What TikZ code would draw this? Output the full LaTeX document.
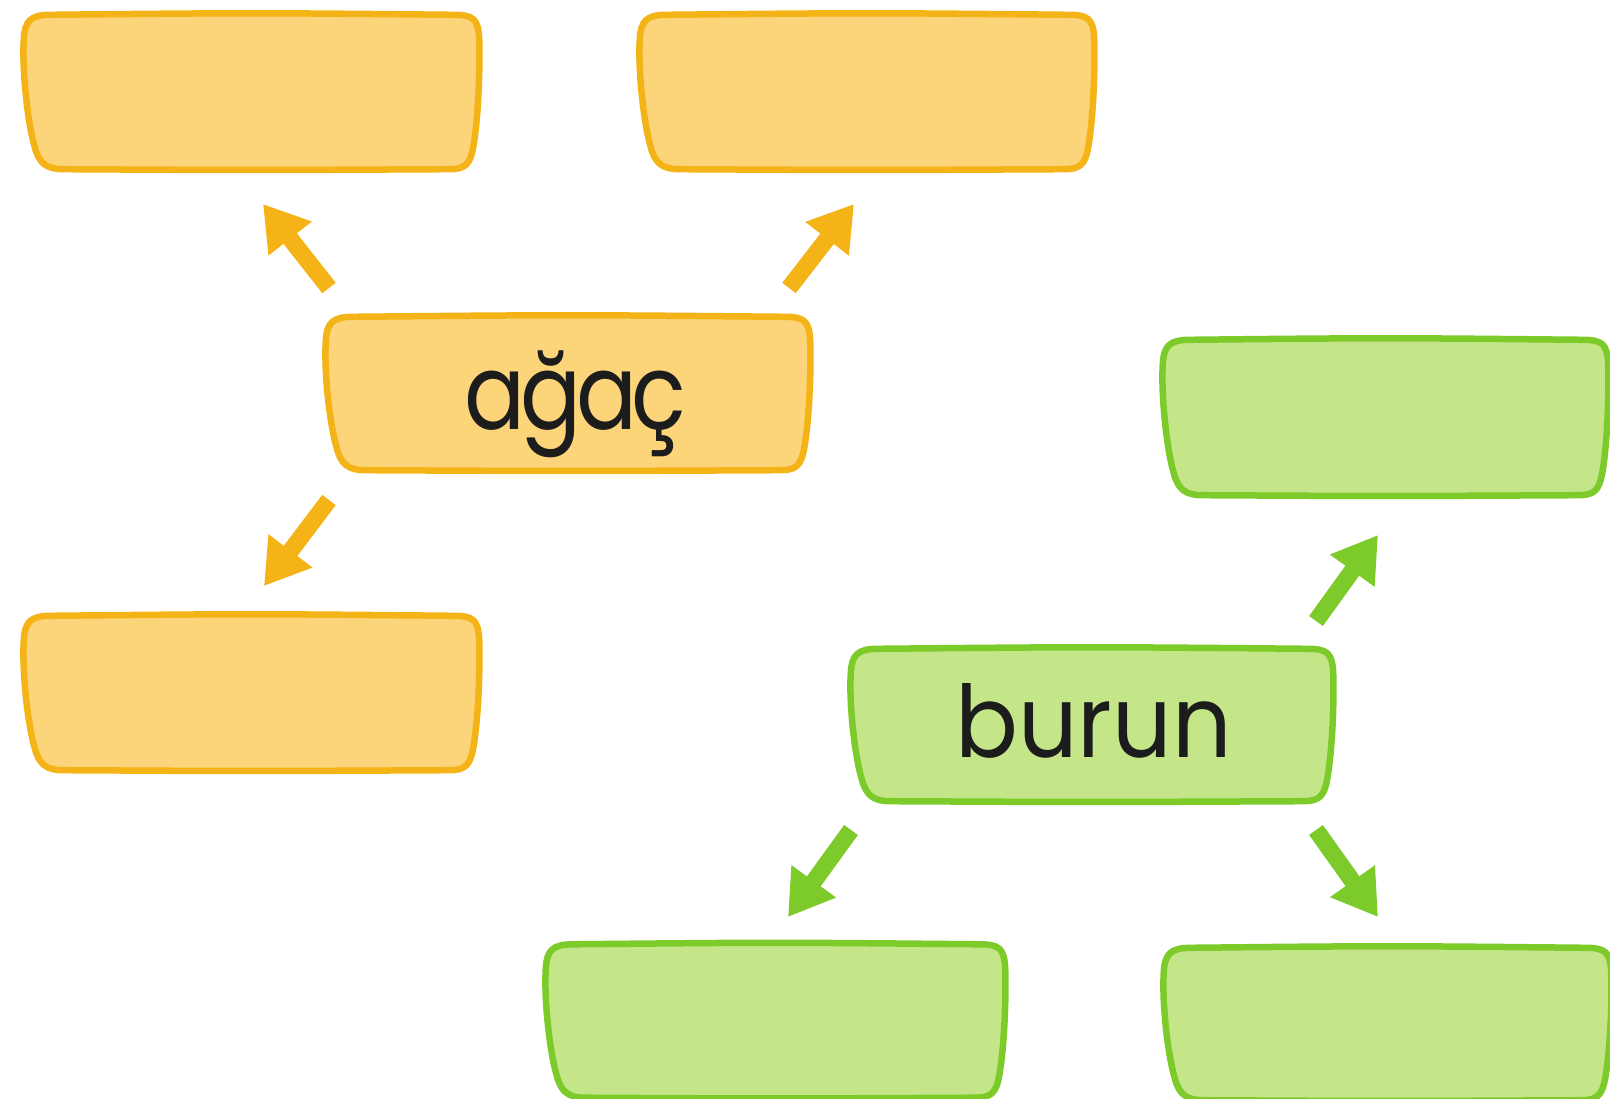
\documentclass[tikz,border=0pt]{standalone}
\usepackage{fontspec}
\setmainfont{Poppins}
\usetikzlibrary{calc,arrows.meta,backgrounds}
\definecolor{ofill}{HTML}{FCD57A}
\definecolor{oline}{HTML}{F4B316}
\definecolor{gfill}{HTML}{C4E688}
\definecolor{gline}{HTML}{7DCB2A}
\definecolor{ink}{HTML}{1C1C1C}
\tikzset{
  slot/.style={draw=none,fill=none,inner sep=0pt,text=ink,font=\fontsize{100}{104}\selectfont,text depth=0pt},
  obox/.style={fill=ofill,draw=oline,line width=6.5pt,line join=round},
  gbox/.style={fill=gfill,draw=gline,line width=6.5pt,line join=round},
  parrow/.style={line width=17pt,-{Triangle[length=44pt,width=52pt]}},
  oarrow/.style={parrow,draw=oline},
  garrow/.style={parrow,draw=gline}
}
\newcommand\blobshape[2]{%
  \path[#2] ($(#1.north west)+(1,-24)$)
   .. controls ($(#1.north west)+(2,-6)$) and ($(#1.north west)+(8,0)$) .. ($(#1.north west)+(28,0)$)
   .. controls ($(#1.north)+(0,2)$) .. ($(#1.north east)+(-26,0)$)
   .. controls ($(#1.north east)+(-6,0)$) and ($(#1.north east)+(-1,-4)$) .. ($(#1.north east)+(0,-24)$)
   .. controls ($(#1.north east)+(1,-55)$) and ($(#1.south east)+(-1,50)$) .. ($(#1.south east)+(-6,22)$)
   .. controls ($(#1.south east)+(-9,5)$) and ($(#1.south east)+(-14,0)$) .. ($(#1.south east)+(-30,0)$)
   .. controls ($(#1.south)+(0,-1)$) .. ($(#1.south west)+(40,0)$)
   .. controls ($(#1.south west)+(24,0)$) and ($(#1.south west)+(16,6)$) .. ($(#1.south west)+(12,22)$)
   .. controls ($(#1.south west)+(5,45)$) and ($(#1.north west)+(-1,-55)$) .. cycle;}
\begin{document}
\begin{tikzpicture}[x=1pt,y=1pt]
\useasboundingbox (0,0) rectangle (1610,-1099);
% orange group
\node[slot,minimum width=456pt,minimum height=154pt] (otl) at (251,-92) {};
\node[slot,minimum width=455pt,minimum height=154pt] (otr) at (866.5,-92) {};
\node[slot,minimum width=485pt,minimum height=153pt,text height=71pt] (agac) at (567.5,-393.5) {\kern16pt\fontsize{105}{110}\selectfont\addfontfeature{FakeStretch=0.86,LetterSpace=-5}ağaç};
\node[slot,minimum width=456pt,minimum height=154pt] (obl) at (251,-693) {};
% green group
\node[slot,minimum width=446pt,minimum height=155pt] (gtr) at (1385,-417.5) {};
\node[slot,minimum width=483pt,minimum height=152pt,text height=64pt] (burun) at (1091.5,-725) {\kern4pt\addfontfeature{FakeStretch=0.93}burun};
\node[slot,minimum width=460pt,minimum height=153pt] (gbm) at (775,-1021) {};
\node[slot,minimum width=448pt,minimum height=152pt] (gbr) at (1387,-1024) {};
\begin{scope}[on background layer]
  \blobshape{otl}{obox}
  \blobshape{otr}{obox}
  \blobshape{agac}{obox}
  \blobshape{obl}{obox}
  \blobshape{gtr}{gbox}
  \blobshape{burun}{gbox}
  \blobshape{gbm}{gbox}
  \blobshape{gbr}{gbox}
\end{scope}
% arrow ends
\coordinate (a1s) at (329,-288); \coordinate (a1e) at (263,-204);
\coordinate (a2s) at (789,-288); \coordinate (a2e) at (854,-204);
\coordinate (a3s) at (329,-500); \coordinate (a3e) at (264,-586);
\coordinate (a4s) at (1316,-621); \coordinate (a4e) at (1378,-535);
\coordinate (a5s) at (851,-830); \coordinate (a5e) at (788,-917);
\coordinate (a6s) at (1316,-830); \coordinate (a6e) at (1378,-917);
\draw[oarrow] (a1s) -- (a1e);
\draw[oarrow] (a2s) -- (a2e);
\draw[oarrow] (a3s) -- (a3e);
\draw[garrow] (a4s) -- (a4e);
\draw[garrow] (a5s) -- (a5e);
\draw[garrow] (a6s) -- (a6e);
\end{tikzpicture}
\end{document}
